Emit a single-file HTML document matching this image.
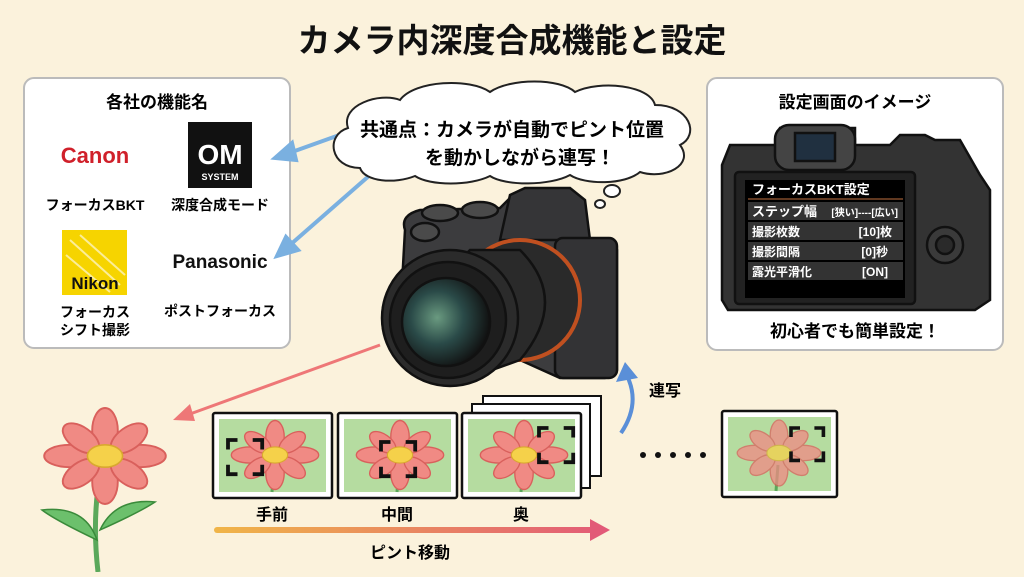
<!DOCTYPE html>
<html><head><meta charset="utf-8"><style>
body{margin:0;width:1024px;height:572px;overflow:hidden;background:#fbf2dc}
svg text{font-family:"Liberation Sans","Noto Sans CJK JP",sans-serif;font-weight:bold}
</style></head><body>
<svg width="1024" height="572" viewBox="0 0 1024 572" xmlns="http://www.w3.org/2000/svg">
<defs>
<linearGradient id="g" gradientUnits="userSpaceOnUse" x1="216" y1="0" x2="610" y2="0"><stop offset="0" stop-color="#f0b548"/><stop offset="1" stop-color="#e25a78"/></linearGradient>
<radialGradient id="lens" cx="0.4" cy="0.45" r="0.6"><stop offset="0" stop-color="#6a9a80"/><stop offset="0.5" stop-color="#2a4a48"/><stop offset="1" stop-color="#111"/></radialGradient>
<g id="fl">
<g fill="#f08a84" stroke="#d9605c" stroke-width="1.2">
<ellipse cx="0" cy="-16" rx="8" ry="14"/><ellipse cx="0" cy="16" rx="8" ry="14"/>
<ellipse cx="-22" cy="0" rx="16" ry="7"/><ellipse cx="22" cy="0" rx="16" ry="7"/>
<ellipse cx="-15" cy="-11" rx="13" ry="7" transform="rotate(35 -15 -11)"/><ellipse cx="15" cy="-11" rx="13" ry="7" transform="rotate(-35 15 -11)"/>
<ellipse cx="-15" cy="11" rx="13" ry="7" transform="rotate(-35 -15 11)"/><ellipse cx="15" cy="11" rx="13" ry="7" transform="rotate(35 15 11)"/>
</g><ellipse cx="0" cy="0" rx="11" ry="7" fill="#f5d14a" stroke="#d9a830"/></g>
<g id="br" fill="none" stroke="#111" stroke-width="4"><path d="M0 10V0H10M26 0H36V10M36 26V36H26M10 36H0V26"/></g>
</defs>
<text x="512" y="52" font-size="33" text-anchor="middle" fill="#111">カメラ内深度合成機能と設定</text>

<!-- left box -->
<rect x="24" y="78" width="266" height="270" rx="10" fill="#fff" stroke="#bbb" stroke-width="2"/>
<text x="157" y="108" font-size="17" text-anchor="middle">各社の機能名</text>
<text x="95" y="163" font-size="22" fill="#d0202a" text-anchor="middle" font-family="Liberation Serif">Canon</text>
<text x="95" y="210" font-size="14" text-anchor="middle">フォーカスBKT</text>
<rect x="188" y="122" width="64" height="66" fill="#111"/>
<text x="220" y="164" font-size="28" fill="#fff" text-anchor="middle">OM</text>
<text x="220" y="180" font-size="9" fill="#fff" text-anchor="middle">SYSTEM</text>
<text x="220" y="210" font-size="14" text-anchor="middle">深度合成モード</text>
<rect x="62" y="230" width="65" height="65" fill="#f6d400"/>
<path d="M70 240L120 285M80 235L125 275M66 255L110 292" stroke="#fff" stroke-width="2" opacity=".6"/>
<text x="95" y="289" font-size="17" fill="#111" text-anchor="middle">Nikon</text>
<text x="95" y="317" font-size="14" text-anchor="middle">フォーカス</text>
<text x="95" y="335" font-size="14" text-anchor="middle">シフト撮影</text>
<text x="220" y="268" font-size="19" text-anchor="middle" fill="#111">Panasonic</text>
<text x="220" y="316" font-size="14" text-anchor="middle">ポストフォーカス</text>

<!-- blue arrows -->
<g stroke="#7ab0e0" stroke-width="4" fill="#7ab0e0">
<line x1="345" y1="133" x2="292" y2="152"/><path d="M275 158L292 143L296 160Z"/>
<line x1="378" y1="168" x2="290" y2="245"/><path d="M277 256L286 237L298 250Z"/>
</g>
<!-- cloud -->
<g fill="#fff" stroke="#222" stroke-width="2">
<path d="M360 168C330 168 325 135 348 128C340 105 380 92 400 100C415 80 470 78 490 92C510 78 560 78 575 92C600 80 650 85 655 105C690 105 700 135 680 145C695 165 665 180 640 172C625 185 585 185 570 175C550 186 505 186 490 176C470 186 430 186 415 176C395 184 365 182 360 168Z"/>
<ellipse cx="612" cy="191" rx="8" ry="6"/><ellipse cx="600" cy="204" rx="5" ry="4"/>
</g>
<text x="512" y="136" font-size="19" text-anchor="middle">共通点：カメラが自動でピント位置</text>
<text x="520" y="164" font-size="19" text-anchor="middle">を動かしながら連写！</text>

<!-- camera front -->
<g stroke="#111" stroke-width="2.5">
<path d="M405 230Q400 215 420 210L500 208L510 198H580L590 240H605L617 250V370L605 378H560L520 360H420L400 320Z" fill="#3c3c3e"/>
<path d="M500 240L510 195L525 188H570L585 200L590 240Z" fill="#353537"/>
<rect x="555" y="238" width="62" height="140" rx="8" fill="#333335"/>
<ellipse cx="440" cy="213" rx="18" ry="8" fill="#4a4a4a"/>
<ellipse cx="480" cy="210" rx="18" ry="8" fill="#4a4a4a"/>
<ellipse cx="425" cy="232" rx="14" ry="9" fill="#4a4a4a"/>
<circle cx="520" cy="300" r="60" fill="#2a2a2a"/>
</g>
<circle cx="520" cy="300" r="60" fill="none" stroke="#c05020" stroke-width="4"/>
<g stroke="#111" stroke-width="2.5">
<path d="M470 250L520 250Q570 300 520 360L450 385Q390 330 470 250Z" fill="#2a2a2a"/>
<circle cx="450" cy="318" r="68" fill="#2b2b2b"/>
<circle cx="448" cy="320" r="58" fill="#1e1e1e"/>
<circle cx="446" cy="322" r="44" fill="url(#lens)"/>
</g>

<!-- right box -->
<rect x="707" y="78" width="296" height="272" rx="10" fill="#fff" stroke="#bbb" stroke-width="2"/>
<text x="855" y="108" font-size="17" text-anchor="middle">設定画面のイメージ</text>
<g stroke="#111" stroke-width="2.5">
<path d="M780 128H855V145H890L900 135H925L935 140H960L980 175L990 190V300L975 310H728L722 300V165L730 145H775Z" fill="#333"/>
<rect x="775" y="125" width="80" height="45" rx="14" fill="#444"/>
<rect x="795" y="133" width="40" height="28" fill="#203040"/>
<rect x="735" y="172" width="180" height="132" rx="4" fill="#222"/>
<circle cx="945" cy="245" r="18" fill="#3a3a3a"/><circle cx="945" cy="245" r="9" fill="#2a2a2a"/>
</g>
<rect x="745" y="180" width="160" height="118" fill="#000"/>
<g fill="#333"><rect x="748" y="202" width="155" height="18"/><rect x="748" y="222" width="155" height="18"/><rect x="748" y="242" width="155" height="18"/><rect x="748" y="262" width="155" height="18"/></g>
<line x1="748" y1="199" x2="903" y2="199" stroke="#c07040"/>
<g fill="#fff" font-size="12">
<text x="752" y="194" font-size="13">フォーカスBKT設定</text>
<text x="752" y="216" font-size="13">ステップ幅</text><text x="898" y="216" font-size="10" text-anchor="end">[狭い]----[広い]</text>
<text x="752" y="236">撮影枚数</text><text x="892" y="236" text-anchor="end">[10]枚</text>
<text x="752" y="256">撮影間隔</text><text x="888" y="256" text-anchor="end">[0]秒</text>
<text x="752" y="276">露光平滑化</text><text x="888" y="276" text-anchor="end">[ON]</text>
</g>
<text x="855" y="337" font-size="17" text-anchor="middle">初心者でも簡単設定！</text>

<!-- red arrow -->
<line x1="380" y1="345" x2="190" y2="414" stroke="#e77" stroke-width="3"/>
<path d="M173 420L190 404L195 421Z" fill="#e77"/>

<!-- flower -->
<path d="M100 475Q92 520 98 572" stroke="#5aa85a" stroke-width="5" fill="none"/>
<path d="M97 540Q55 520 42 510Q85 505 97 540Z" fill="#6cc06c" stroke="#3a8a3a" stroke-width="1.5"/>
<path d="M100 530Q140 512 155 502Q115 498 100 530Z" fill="#6cc06c" stroke="#3a8a3a" stroke-width="1.5"/>
<use href="#fl" transform="translate(105 456) scale(1.6)"/>

<!-- photos -->
<rect x="483" y="396" width="118" height="80" fill="#fff" stroke="#111" stroke-width="2"/>
<rect x="472" y="404" width="118" height="84" fill="#fff" stroke="#111" stroke-width="2"/>
<g stroke="#111" stroke-width="2.5" fill="#fff">
<rect x="213" y="413" width="119" height="85" rx="2"/><rect x="338" y="413" width="119" height="85" rx="2"/><rect x="462" y="413" width="119" height="85" rx="2"/><rect x="722" y="411" width="115" height="86" rx="2"/>
</g>
<g fill="#b5dca0"><rect x="219" y="419" width="107" height="73"/><rect x="344" y="419" width="107" height="73"/><rect x="468" y="419" width="107" height="73"/><rect x="728" y="417" width="103" height="74"/></g>
<g stroke="#5aa85a" stroke-width="3"><line x1="274" y1="465" x2="272" y2="492"/><line x1="399" y1="465" x2="397" y2="492"/><line x1="523" y1="465" x2="521" y2="492"/><line x1="778" y1="465" x2="776" y2="491"/></g>
<use href="#fl" transform="translate(275 455) scale(1.15)"/>
<use href="#fl" transform="translate(400 455) scale(1.15)"/>
<use href="#fl" transform="translate(524 455) scale(1.15)"/>
<use href="#fl" transform="translate(779 453) scale(1.1)" opacity=".75"/>
<use href="#br" transform="translate(228 440) scale(.95)"/>
<use href="#br" transform="translate(381 442) scale(.95)"/>
<use href="#br" transform="translate(539 428) scale(.95)"/>
<use href="#br" transform="translate(791 428) scale(.9)"/>
<g fill="#111"><circle cx="643" cy="455" r="3"/><circle cx="658" cy="455" r="3"/><circle cx="673" cy="455" r="3"/><circle cx="688" cy="455" r="3"/><circle cx="703" cy="455" r="3"/></g>
<text x="272" y="520" font-size="16" text-anchor="middle">手前</text>
<text x="397" y="520" font-size="16" text-anchor="middle">中間</text>
<text x="521" y="520" font-size="16" text-anchor="middle">奥</text>
<rect x="214" y="527" width="380" height="6" rx="3" fill="url(#g)"/>
<path d="M610 530L590 519V541Z" fill="#e25a78"/>
<text x="410" y="558" font-size="16" text-anchor="middle">ピント移動</text>
<!-- blue curve -->
<path d="M621 433Q640 405 628 378" stroke="#5a8fd8" stroke-width="4" fill="none"/>
<path d="M625 362L616 382L638 378Z" fill="#5a8fd8"/>
<text x="665" y="396" font-size="16" text-anchor="middle">連写</text>
</svg>
</body></html>
